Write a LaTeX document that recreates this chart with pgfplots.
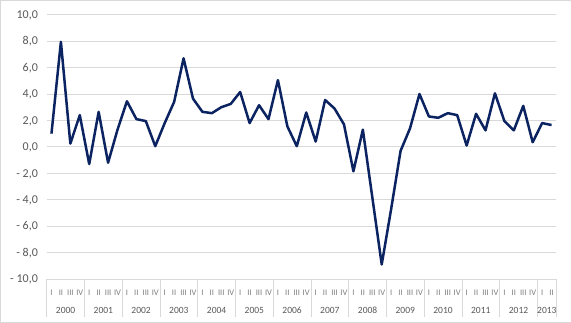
\documentclass[border=0pt]{standalone}
\usepackage{fontspec}
\setmainfont{Carlito}
\usepackage{pgfplots}
\pgfplotsset{compat=1.18}
\definecolor{gridgray}{HTML}{D9D9D9}
\definecolor{labgray}{HTML}{595959}
\definecolor{qgray}{HTML}{7F7F7F}
\definecolor{navy}{HTML}{0B2461}
\begin{document}
\begin{tikzpicture}[x=1pt,y=1pt]
\draw[draw=gridgray, fill=white] (0.5,0.5) rectangle (570.5,322.5);
\begin{axis}[
  at={(47pt,44pt)}, anchor=south west,
  width=509pt, height=264pt, scale only axis,
  xmin=0.5, xmax=54.5, ymin=-10, ymax=10,
  separate axis lines,
  axis x line*=bottom, axis y line*=left,
  x axis line style={draw=gridgray, line width=0.8pt, -},
  y axis line style={draw=none, -},
  ytick={-10,-8,...,10},
  yticklabels={{- 10,0},{- 8,0},{- 6,0},{- 4,0},{- 2,0},{0,0},{2,0},{4,0},{6,0},{8,0},{10,0}},
  ymajorgrids, grid style={draw=gridgray, line width=0.8pt},
  major tick length=0pt,
  xtick style={draw=none}, ytick style={draw=none},
  /pgf/number format/assume math mode=true,
  yticklabel style={font=\fontsize{12}{12}\selectfont, text=labgray, inner sep=0pt, anchor=base east, xshift=-8.7pt, yshift=-3.8pt},
  xtick={1,...,54},
  xticklabels={I,II,III,IV,I,II,III,IV,I,II,III,IV,I,II,III,IV,I,II,III,IV,I,II,III,IV,I,II,III,IV,I,II,III,IV,I,II,III,IV,I,II,III,IV,I,II,III,IV,I,II,III,IV,I,II,III,IV,I,II},
  xticklabel style={font=\fontsize{8.5}{8.5}\selectfont, text=qgray, inner sep=0pt, anchor=base, yshift=-16.5pt},
  clip=false,
]
\addplot[navy, line width=2.5pt, line join=round, mark=none] coordinates {
(1,1.0) (2,7.95) (3,0.25) (4,2.4)
(5,-1.3) (6,2.65) (7,-1.2) (8,1.3)
(9,3.45) (10,2.1) (11,1.95) (12,0.05)
(13,1.8) (14,3.4) (15,6.7) (16,3.65)
(17,2.65) (18,2.55) (19,3.0) (20,3.25)
(21,4.15) (22,1.8) (23,3.15) (24,2.1)
(25,5.05) (26,1.55) (27,0.05) (28,2.6)
(29,0.4) (30,3.55) (31,2.9) (32,1.7)
(33,-1.85) (34,1.3) (35,-3.8) (36,-8.9)
(37,-4.7) (38,-0.3) (39,1.4) (40,4.0)
(41,2.3) (42,2.2) (43,2.55) (44,2.4)
(45,0.1) (46,2.5) (47,1.25) (48,4.05)
(49,1.95) (50,1.25) (51,3.1) (52,0.35)
(53,1.8) (54,1.65)
};
\end{axis}
\foreach \i in {0,...,13} {
  \draw[gridgray, line width=0.8pt] ({47+\i*37.7037},44) -- ++(0,-38);
}
\draw[gridgray, line width=0.8pt] (556,44) -- ++(0,-38);
\foreach \y [count=\k from 0] in {2000,2001,2002,2003,2004,2005,2006,2007,2008,2009,2010,2011,2012} {
  \node[anchor=base, inner sep=0pt, font=\fontsize{9.5}{9.5}\selectfont, text=labgray] at ({47+(\k+0.5)*37.7037},9.5) {\y};
}
\node[anchor=base, inner sep=0pt, font=\fontsize{9.5}{9.5}\selectfont, text=labgray] at (546.6,9.5) {2013};
\end{tikzpicture}
\end{document}
